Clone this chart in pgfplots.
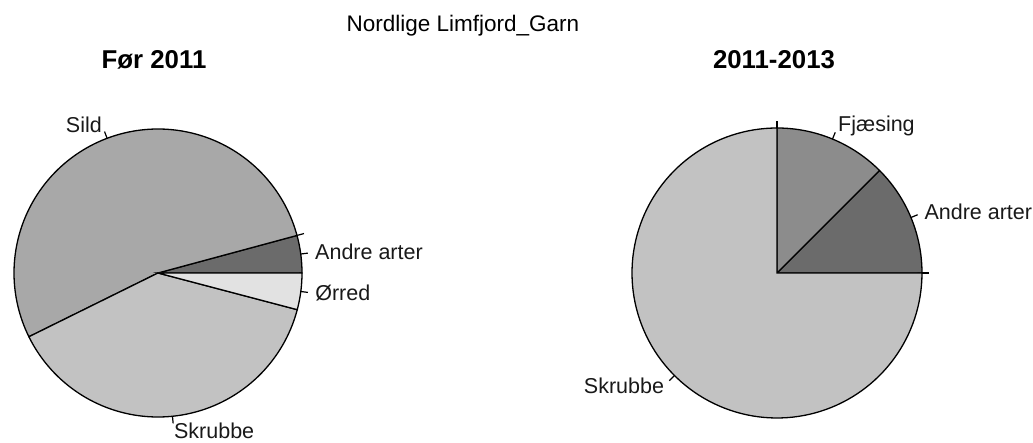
\documentclass[border=0pt]{standalone}
\usepackage{pgfplots}
\pgfplotsset{compat=1.18}
\usepackage{fontspec}
\setmainfont{Liberation Sans}
\definecolor{cAndre}{HTML}{6B6B6B}
\definecolor{cFjaes}{HTML}{8C8C8C}
\definecolor{cSild}{HTML}{A8A8A8}
\definecolor{cSkrub}{HTML}{C2C2C2}
\definecolor{cOrred}{HTML}{E2E2E2}
% slice: cx, cy, r, start share (%), share (%), colour
\newcommand{\slice}[6]{%
  \addplot[draw=black, line width=1.3bp, fill=#6, domain={(#4)*3.6}:{(#4+#5)*3.6}, samples=120, variable=\t]
    ({#1+#3*cos(t)},{#2+#3*sin(t)}) -- (axis cs:#1,#2) -- cycle;}
% tick from r to 1.05 r at angle (deg)
\newcommand{\tick}[4]{%
  \addplot[draw=black, line width=1.2bp, domain=1:1.05, samples=2, variable=\s]
    ({#1+\s*#3*cos(#4)},{#2+\s*#3*sin(#4)});}
\newcommand{\lab}[6]{% cx cy r angle anchor text
  \node[anchor=#5, inner sep=0pt, text=black!90, font=\fontsize{21.5bp}{24bp}\selectfont] at (axis cs:{#1+1.1*#3*cos(#4)},{#2+1.1*#3*sin(#4)}) {#6};}
\begin{document}
\begin{tikzpicture}
\useasboundingbox (0,0) rectangle (1033bp,443bp);
\begin{axis}[at={(0,0)}, anchor=south west, width=1033bp, height=443bp, scale only axis,
  xmin=0, xmax=1033, ymin=0, ymax=443, hide axis, clip=false]
% Left pie: Før 2011 (shares in %): Andre arter 4.2, Fjæsing 0, Sild 53.1, Skrubbe 38.6, Ørred 4.1
\slice{158}{170}{144}{0}{4.2}{cAndre}
\slice{158}{170}{144}{4.2}{53.1}{cSild}
\slice{158}{170}{144}{57.3}{38.6}{cSkrub}
\slice{158}{170}{144}{95.9}{4.1}{cOrred}
\tick{158}{170}{144}{7.56}
\tick{158}{170}{144}{15.12}
\tick{158}{170}{144}{110.7}
\tick{158}{170}{144}{275.76}
\tick{158}{170}{144}{352.62}
\lab{158}{170}{144}{110.7}{east}{Sild}
\lab{158}{170}{144}{7.56}{west}{Andre arter}
\lab{158}{170}{144}{275.76}{west}{Skrubbe}
\lab{158}{170}{144}{352.62}{west}{Ørred}
% Right pie: 2011-2013: Andre arter 12.5, Fjæsing 12.5, Sild 0, Skrubbe 75, Ørred 0
\slice{777}{170}{145}{0}{12.5}{cAndre}
\slice{777}{170}{145}{12.5}{12.5}{cFjaes}
\slice{777}{170}{145}{25}{75}{cSkrub}
\tick{777}{170}{145}{22.5}
\tick{777}{170}{145}{67.5}
\tick{777}{170}{145}{90}
\tick{777}{170}{145}{225}
\tick{777}{170}{145}{0}
\lab{777}{170}{145}{22.5}{west}{Andre arter}
\lab{777}{170}{145}{67.5}{west}{Fjæsing}
\lab{777}{170}{145}{225}{east}{Skrubbe}
% titles
\node[font=\fontsize{22.5bp}{25bp}\selectfont] at (axis cs:463,417) {Nordlige Limfjord\_Garn};
\node[font=\fontsize{25.8bp}{28bp}\selectfont\bfseries] at (axis cs:154,383) {Før 2011};
\node[font=\fontsize{25.8bp}{28bp}\selectfont\bfseries] at (axis cs:774,383) {2011-2013};
\end{axis}
\end{tikzpicture}
\end{document}
